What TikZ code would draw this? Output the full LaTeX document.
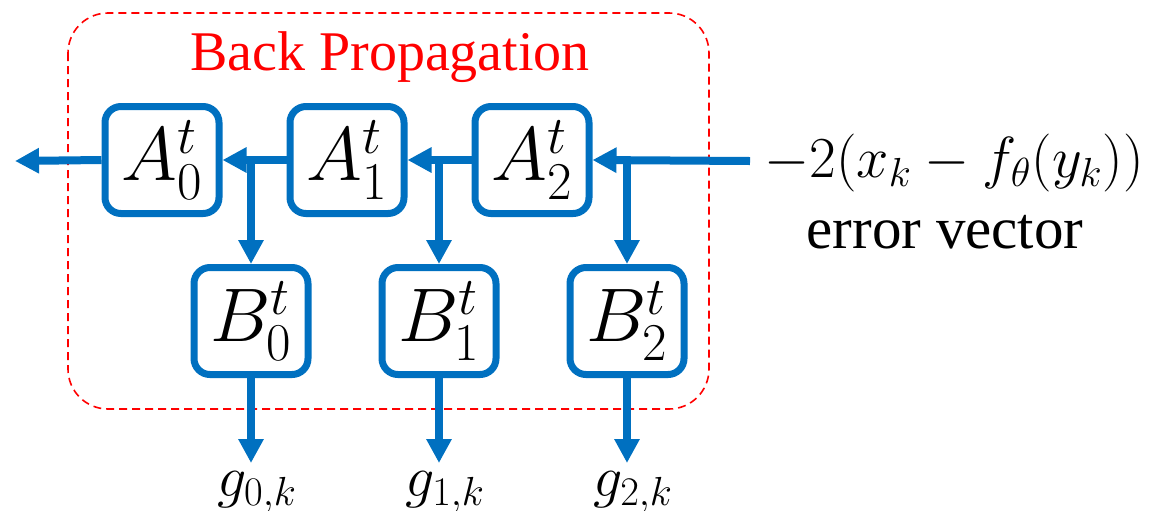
\RequirePackage{fix-cm}
\documentclass[tikz,border=0pt]{standalone}
\usepackage{amsmath}
\usepackage{fontspec}
\setmainfont{Liberation Serif}
\usetikzlibrary{arrows.meta}
\definecolor{pblue}{HTML}{0070C0}

\begin{document}
\begin{tikzpicture}[
  x=0.5pt, y=-0.5pt,
  blk/.style={draw=pblue, line width=3.5pt, rounded corners=8pt, fill=white, minimum width=57pt, minimum height=53.5pt, inner sep=0pt, font=\fontsize{38}{44}\selectfont},
  arr/.style={-{Triangle[length=12pt,width=12pt]}, draw=pblue, line width=4pt},
  lab/.style={font=\fontsize{28}{34}\selectfont, inner sep=0pt},
  glab/.style={font=\fontsize{29}{34}\selectfont, inner sep=0pt},
  frame/.style={draw=red, dash pattern=on 4pt off 2.5pt, line width=0.8pt, rounded corners=20pt}
]
  \useasboundingbox (0,0) rectangle (1151,510);

  % Cadre
  \draw[frame] (68,13) rectangle (709,409);
  \node[lab, text=red, anchor=base] (ttl) at (390,70) {Back Propagation};

  % Blocs A et B
  \node[blk] (A0) at (162,160) {$A_0^t$};
  \node[blk] (A1) at (347,160) {$A_1^t$};
  \node[blk] (A2) at (532,160) {$A_2^t$};
  \node[blk] (B0) at (251,321) {$B_0^t$};
  \node[blk] (B1) at (439,321) {$B_1^t$};
  \node[blk] (B2) at (627,321) {$B_2^t$};

  % Entree / sortie
  \coordinate (in) at (750,161);
  \coordinate (out) at (15,161);
  \node[lab, anchor=west, font=\fontsize{29}{35}\selectfont] (err) at (764,163) {$-2(x_k-f_\theta(y_k))$};
  \node[lab, anchor=base, font=\fontsize{29.5}{35}\selectfont] (evec) at (945,248) {error vector};

  \node[glab, anchor=north] (g0) at (257,471) {$g_{0,k}$};
  \node[glab, anchor=north] (g1) at (445,471) {$g_{1,k}$};
  \node[glab, anchor=north] (g2) at (633,471) {$g_{2,k}$};

  \draw[arr] (in) -- (A2.east);
  \draw[arr] (A2.west) -- (A1.east);
  \draw[arr] (A1.west) -- (A0.east);
  \draw[arr] (A0.west) -- (out);

  \draw[arr] (B2.north |- A2.east) -- (B2.north);
  \draw[arr] (B1.north |- A1.east) -- (B1.north);
  \draw[arr] (B0.north |- A0.east) -- (B0.north);

  \draw[arr, shorten >=4pt] (B0.south) -- (B0.south |- g0.north);
  \draw[arr, shorten >=4pt] (B1.south) -- (B1.south |- g1.north);
  \draw[arr, shorten >=4pt] (B2.south) -- (B2.south |- g2.north);
\end{tikzpicture}
\end{document}
